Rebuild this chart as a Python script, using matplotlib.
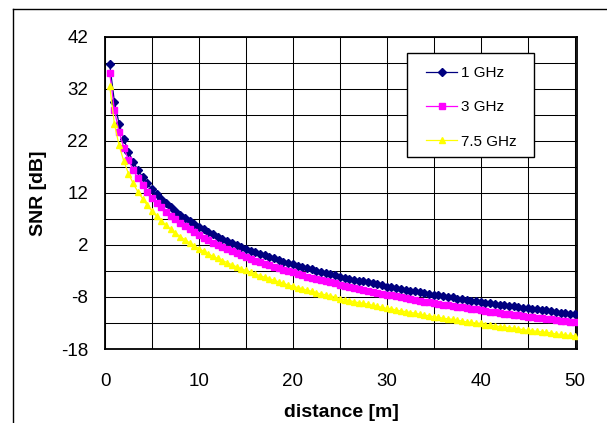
import matplotlib
matplotlib.use("Agg")
import matplotlib.pyplot as plt
from matplotlib.lines import Line2D
from matplotlib.patches import Rectangle

plt.rcParams["font.family"] = ["Liberation Sans", "DejaVu Sans"]
plt.rcParams["axes.unicode_minus"] = False

distance = [0.5, 1.0, 1.5, 2.0, 2.5, 3.0, 3.5, 4.0, 4.5, 5.0,
            5.5, 6.0, 6.5, 7.0, 7.5, 8.0, 8.5, 9.0, 9.5, 10.0,
            10.5, 11.0, 11.5, 12.0, 12.5, 13.0, 13.5, 14.0, 14.5, 15.0,
            15.5, 16.0, 16.5, 17.0, 17.5, 18.0, 18.5, 19.0, 19.5, 20.0,
            20.5, 21.0, 21.5, 22.0, 22.5, 23.0, 23.5, 24.0, 24.5, 25.0,
            25.5, 26.0, 26.5, 27.0, 27.5, 28.0, 28.5, 29.0, 29.5, 30.0,
            30.5, 31.0, 31.5, 32.0, 32.5, 33.0, 33.5, 34.0, 34.5, 35.0,
            35.5, 36.0, 36.5, 37.0, 37.5, 38.0, 38.5, 39.0, 39.5, 40.0,
            40.5, 41.0, 41.5, 42.0, 42.5, 43.0, 43.5, 44.0, 44.5, 45.0,
            45.5, 46.0, 46.5, 47.0, 47.5, 48.0, 48.5, 49.0, 49.5, 50.0]

snr_1ghz = [36.7, 29.5, 25.3, 22.3, 19.9, 18.0, 16.4, 15.1, 13.8, 12.7,
            11.7, 10.8, 10.0, 9.2, 8.5, 7.8, 7.2, 6.6, 6.0, 5.5,
            5.0, 4.5, 4.0, 3.6, 3.2, 2.8, 2.4, 2.0, 1.6, 1.3,
            0.9, 0.6, 0.3, 0.0, -0.3, -0.6, -0.9, -1.2, -1.5, -1.7,
            -2.0, -2.2, -2.5, -2.7, -3.0, -3.2, -3.4, -3.6, -3.8, -4.1,
            -4.3, -4.5, -4.7, -4.9, -5.0, -5.2, -5.4, -5.6, -5.8, -6.0,
            -6.1, -6.3, -6.5, -6.6, -6.8, -6.9, -7.1, -7.3, -7.4, -7.6,
            -7.7, -7.9, -8.0, -8.1, -8.3, -8.4, -8.6, -8.7, -8.8, -8.9,
            -9.1, -9.2, -9.3, -9.5, -9.6, -9.7, -9.8, -9.9, -10.1, -10.2,
            -10.3, -10.4, -10.5, -10.6, -10.7, -10.9, -11.0, -11.1, -11.2, -11.3]

snr_3ghz = [35.1, 27.9, 23.7, 20.7, 18.3, 16.4, 14.8, 13.5, 12.2, 11.1,
            10.1, 9.2, 8.4, 7.6, 6.9, 6.2, 5.6, 5.0, 4.4, 3.9,
            3.4, 2.9, 2.4, 2.0, 1.6, 1.2, 0.8, 0.4, 0.0, -0.3,
            -0.7, -1.0, -1.3, -1.6, -1.9, -2.2, -2.5, -2.8, -3.1, -3.3,
            -3.6, -3.8, -4.1, -4.3, -4.6, -4.8, -5.0, -5.2, -5.4, -5.7,
            -5.9, -6.1, -6.3, -6.5, -6.6, -6.8, -7.0, -7.2, -7.4, -7.6,
            -7.7, -7.9, -8.1, -8.2, -8.4, -8.5, -8.7, -8.9, -9.0, -9.2,
            -9.3, -9.5, -9.6, -9.7, -9.9, -10.0, -10.2, -10.3, -10.4, -10.5,
            -10.7, -10.8, -10.9, -11.1, -11.2, -11.3, -11.4, -11.5, -11.7, -11.8,
            -11.9, -12.0, -12.1, -12.2, -12.3, -12.5, -12.6, -12.7, -12.8, -12.9]

snr_7_5ghz = [32.5, 25.3, 21.1, 18.1, 15.7, 13.8, 12.2, 10.9, 9.6, 8.5,
              7.5, 6.6, 5.8, 5.0, 4.3, 3.6, 3.0, 2.4, 1.8, 1.3,
              0.8, 0.3, -0.2, -0.6, -1.0, -1.4, -1.8, -2.2, -2.6, -2.9,
              -3.3, -3.6, -3.9, -4.2, -4.5, -4.8, -5.1, -5.4, -5.7, -5.9,
              -6.2, -6.4, -6.7, -6.9, -7.2, -7.4, -7.6, -7.8, -8.0, -8.3,
              -8.5, -8.7, -8.9, -9.1, -9.2, -9.4, -9.6, -9.8, -10.0, -10.2,
              -10.3, -10.5, -10.7, -10.8, -11.0, -11.1, -11.3, -11.5, -11.6, -11.8,
              -11.9, -12.1, -12.2, -12.3, -12.5, -12.6, -12.8, -12.9, -13.0, -13.1,
              -13.3, -13.4, -13.5, -13.7, -13.8, -13.9, -14.0, -14.1, -14.3, -14.4,
              -14.5, -14.6, -14.7, -14.8, -14.9, -15.1, -15.2, -15.3, -15.4, -15.5]

x_ticks = [0, 10, 20, 30, 40, 50]
y_ticks = [-18, -8, 2, 12, 22, 32, 42]
x_grid = [0, 5, 10, 15, 20, 25, 30, 35, 40, 45, 50]
y_grid = [-18, -13, -8, -3, 2, 7, 12, 17, 22, 27, 32, 37, 42]

W, H = 607, 423
fig = plt.figure(figsize=(W / 100, H / 100), dpi=100)

# outer chart border (top and left edges)
fig.add_artist(Line2D([13 / W, 1.0], [1 - 9 / H, 1 - 9 / H], color="black", lw=1.0))
fig.add_artist(Line2D([13 / W, 13 / W], [0.0, 1 - 9 / H], color="black", lw=1.0))

ax = fig.add_axes([105 / W, 1 - 349 / H, (577 - 105) / W, (349 - 36.7) / H])
ax.set_xlim(0, 50.25)
ax.set_ylim(-18, 42)

for gx in x_grid:
    ax.axvline(gx, color="black", lw=0.75, zorder=1)
for gy in y_grid:
    ax.axhline(gy, color="black", lw=0.75, zorder=1)

ax.plot(distance, snr_1ghz, color="#000080", lw=0.9, marker="D", ms=3.8,
        mec="#000080", mfc="#000080", label="1 GHz", zorder=3)
ax.plot(distance, snr_3ghz, color="#FF00FF", lw=0.9, marker="s", ms=4.3,
        mec="#FF00FF", mfc="#FF00FF", label="3 GHz", zorder=4)
ax.plot(distance, snr_7_5ghz, color="#FFFF00", lw=0.9, marker="^", ms=5.0,
        mec="#FFFF00", mfc="#FFFF00", label="7.5 GHz", zorder=5)

ax.set_xticks(x_ticks)
ax.set_yticks(y_ticks)
ax.tick_params(axis="both", length=0, labelsize=13.5)
ax.tick_params(axis="x", pad=17)
ax.tick_params(axis="y", pad=12)
for s in ax.spines.values():
    s.set_linewidth(1.3)
    s.set_color("black")

ax.set_xlabel("distance [m]", fontsize=14, fontweight="bold", labelpad=10)
ax.set_ylabel("SNR [dB]", fontsize=14, fontweight="bold", labelpad=10)

# legend box
ax.add_patch(Rectangle((407 / W, 1 - 157 / H), 127 / W, 104 / H,
                       transform=fig.transFigure, facecolor="white",
                       edgecolor="black", lw=1.0, zorder=6, clip_on=False))
leg = ax.legend(loc="upper left",
                bbox_to_anchor=(426 / W, 1 - 66 / H), bbox_transform=fig.transFigure,
                fontsize=11, frameon=False, handlelength=2.05, handletextpad=0.25,
                labelspacing=1.33, borderpad=0, borderaxespad=0)
leg.set_zorder(7)

fig.savefig("out.png", dpi=100)
